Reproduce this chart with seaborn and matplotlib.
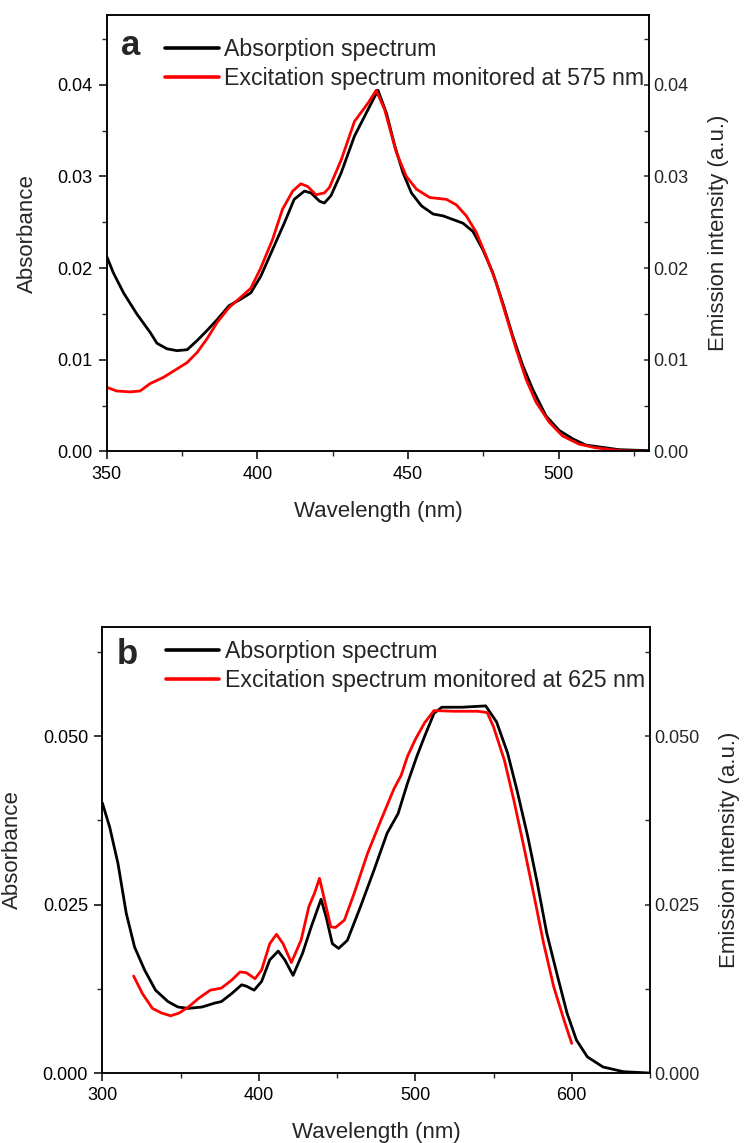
import numpy as np
import pandas as pd
import matplotlib
matplotlib.use("Agg")
import matplotlib.pyplot as plt
from matplotlib.ticker import MultipleLocator, FormatStrFormatter
import seaborn as sns

# ---------------- data: panel a ----------------
a_abs_wl = [350, 352.2, 355.6, 360, 364.4, 366.7, 370, 373.3, 376.7, 380, 383.3, 386.7,
            390.6, 394.4, 397.8, 401.1, 405, 408.9, 412.2, 415.6, 417.8, 420.6, 422.2,
            424.4, 427.8, 432.2, 436.7, 440, 442.8, 445.6, 448.3, 451.1, 454.4, 458.3,
            461.6, 464.9, 468.2, 471.5, 474.8, 478.1, 481.4, 484.7, 488, 491.3, 495.7,
            500.1, 504.5, 508.9, 515.5, 519.9, 528.7, 530]
a_abs_val = [0.0213, 0.0195, 0.0173, 0.0150, 0.0130, 0.0118, 0.0112, 0.0110, 0.0111, 0.0121,
             0.0132, 0.0144, 0.0159, 0.0166, 0.0173, 0.0191, 0.0220, 0.0249, 0.0275, 0.0284,
             0.0282, 0.0273, 0.0271, 0.0279, 0.0304, 0.0344, 0.0373, 0.0394, 0.0369, 0.0333,
             0.0304, 0.0282, 0.0268, 0.0259, 0.0257, 0.0253, 0.0249, 0.0240, 0.0220, 0.0195,
             0.0162, 0.0126, 0.0094, 0.0068, 0.0039, 0.0023, 0.0014, 0.0007, 0.0004, 0.0002,
             0.0001, 0.0001]

a_exc_wl = [350, 353.3, 357.8, 361.1, 364.4, 368.9, 373.3, 376.7, 380, 383.3, 386.7, 390.6,
            394.4, 397.8, 401.1, 405, 408.3, 411.7, 414.4, 416.7, 419.4, 422.2, 423.9, 427.8,
            432.2, 436.7, 439.4, 442.2, 446.1, 449.4, 452.8, 457.2, 462.7, 466, 469.3,
            472.6, 475.9, 479.2, 482.5, 485.8, 489.1, 492.4, 496.8, 501.2, 506.7, 512.2,
            520, 530]
a_exc_val = [0.0070, 0.0066, 0.0065, 0.0066, 0.0074, 0.0081, 0.0090, 0.0097, 0.0108, 0.0123,
             0.0141, 0.0157, 0.0168, 0.0178, 0.0200, 0.0231, 0.0264, 0.0284, 0.0292, 0.0289,
             0.0280, 0.0282, 0.0288, 0.0318, 0.0360, 0.0380, 0.0394, 0.0373, 0.0326, 0.0300,
             0.0286, 0.0277, 0.0275, 0.0269, 0.0257, 0.0239, 0.0213, 0.0184, 0.0148, 0.0112,
             0.0079, 0.0054, 0.0032, 0.0017, 0.0008, 0.0004, 0.0001, 0.0000]

# ---------------- data: panel b ----------------
b_abs_wl = [300, 304.7, 310, 315.3, 320.6, 327, 334, 342, 348.3, 355, 363.7, 372, 376,
            382.7, 389, 392, 397, 401.8, 407, 412.4, 416.6, 421.9, 428, 433.5, 439.8, 443,
            447, 451, 456.6, 465, 473.6, 482, 489, 495, 501, 506, 512, 517, 530, 545, 552,
            559, 565, 572, 578, 584, 591, 597, 603, 610, 620, 633, 650]
b_abs_val = [0.0401, 0.0365, 0.0311, 0.0237, 0.0187, 0.0153, 0.0123, 0.0106, 0.0098, 0.0096,
             0.0098, 0.0104, 0.0106, 0.0118, 0.0131, 0.0129, 0.0123, 0.0136, 0.0168, 0.0181,
             0.0168, 0.0145, 0.0178, 0.0217, 0.0258, 0.0232, 0.0192, 0.0185, 0.0197, 0.0247,
             0.0301, 0.0356, 0.0385, 0.0430, 0.0470, 0.0500, 0.0534, 0.0543, 0.0543, 0.0545,
             0.0521, 0.0475, 0.0420, 0.0350, 0.0282, 0.0208, 0.0143, 0.0089, 0.0049, 0.0024,
             0.0009, 0.0002, 0.0000]

b_exc_wl = [320, 325.6, 332, 338, 343.6, 349, 355, 361.6, 369, 376, 382.7, 388, 392, 397.6,
            401.8, 407, 411.3, 415.5, 420.8, 427, 432, 435.6, 438.8, 442, 446, 449, 454.7,
            461, 469.5, 478, 486.4, 491, 495, 500, 506, 512, 525, 540, 546, 550, 557, 563,
            569.4, 576, 582, 588.5, 595, 600]
b_exc_val = [0.0144, 0.0118, 0.0096, 0.0089, 0.0085, 0.0089, 0.0098, 0.0111, 0.0123, 0.0126,
             0.0138, 0.0150, 0.0149, 0.0140, 0.0153, 0.0192, 0.0206, 0.0192, 0.0164, 0.0197,
             0.0247, 0.0267, 0.0289, 0.0257, 0.0217, 0.0216, 0.0227, 0.0267, 0.0326, 0.0375,
             0.0422, 0.0442, 0.0470, 0.0495, 0.0520, 0.0538, 0.0537, 0.0537, 0.0535, 0.0514,
             0.0464, 0.0405, 0.0336, 0.0262, 0.0193, 0.0128, 0.0079, 0.0044]

labels_abs = "Absorption spectrum"
label_exc_a = "Excitation spectrum monitored at 575 nm"
label_exc_b = "Excitation spectrum monitored at 625 nm"

sns.set_theme(style="ticks")
plt.rcParams['font.family'] = ['Liberation Sans', 'DejaVu Sans']

fig = plt.figure(figsize=(7.47, 11.43), dpi=100)

TICK_FS = 13
LABEL_FS = 16
LEG_FS = 16.7

def panel(rect, abs_wl, abs_val, exc_wl, exc_val, exc_label, letter, letter_y, leg_anchor,
          xlim, ylim, xmaj, xmin, ymaj, ymin, fmt):
    ax = fig.add_axes(rect)
    df_abs = pd.DataFrame({"wl": abs_wl, "val": abs_val})
    df_exc = pd.DataFrame({"wl": exc_wl, "val": exc_val})
    sns.lineplot(data=df_abs, x="wl", y="val", ax=ax, color="black", lw=2.0,
                 label=labels_abs, estimator=None, sort=False)
    sns.lineplot(data=df_exc, x="wl", y="val", ax=ax, color="#ff0000", lw=2.0,
                 label=exc_label, estimator=None, sort=False)
    ax.set_xlim(*xlim)
    ax.set_ylim(*ylim)
    ax.xaxis.set_major_locator(MultipleLocator(xmaj))
    ax.xaxis.set_minor_locator(MultipleLocator(xmin))
    ax.yaxis.set_major_locator(MultipleLocator(ymaj))
    ax.yaxis.set_minor_locator(MultipleLocator(ymin))
    ax.yaxis.set_major_formatter(FormatStrFormatter(fmt))
    ax.set_xlabel("Wavelength (nm)", fontsize=LABEL_FS, labelpad=13)
    ax.set_ylabel("Absorbance", fontsize=LABEL_FS, labelpad=14)
    ax.tick_params(axis='both', which='major', direction='out', length=5.8, width=1.1,
                   labelsize=TICK_FS, colors='black', pad=4.5)
    ax.tick_params(axis='both', which='minor', direction='out', length=3.3, width=1.0)
    for s in ax.spines.values():
        s.set_visible(True)
        s.set_linewidth(1.1)
        s.set_color('black')
    ax2 = ax.twinx()
    ax2.set_ylim(*ylim)
    ax2.yaxis.set_major_locator(MultipleLocator(ymaj))
    ax2.yaxis.set_minor_locator(MultipleLocator(ymin))
    ax2.yaxis.set_major_formatter(FormatStrFormatter(fmt))
    ax2.tick_params(axis='y', which='major', direction='in', length=3.3, width=1.1,
                    labelsize=TICK_FS, pad=3)
    ax2.tick_params(axis='y', which='minor', direction='in', length=3.3, width=1.0)
    ax2.set_ylabel("Emission intensity (a.u.)", fontsize=LABEL_FS, labelpad=14)
    for s in ax2.spines.values():
        s.set_linewidth(1.1)
        s.set_color('black')
    leg = ax.legend(loc='upper left', bbox_to_anchor=leg_anchor, frameon=False,
                    fontsize=LEG_FS, handlelength=2.3, handletextpad=0.25,
                    labelspacing=0.28, borderaxespad=0.0, borderpad=0.0)
    for h in leg.get_lines():
        h.set_linewidth(2.6)
    ax.text(0.026, letter_y, letter, transform=ax.transAxes, fontsize=25,
            fontweight='bold', va='center', ha='left')
    return ax

panel([0.1428, 0.6050, 0.7264, 0.3818], a_abs_wl, a_abs_val, a_exc_wl, a_exc_val,
      label_exc_a, "a", 0.93, (0.108, 0.948),
      (350, 530), (0, 0.0476), 50, 25, 0.01, 0.005, '%.2f')
panel([0.1370, 0.0612, 0.7331, 0.3902], b_abs_wl, b_abs_val, b_exc_wl, b_exc_val,
      label_exc_b, "b", 0.938, (0.116, 0.971),
      (300, 650), (0, 0.0662), 100, 50, 0.025, 0.0125, '%.3f')

fig.savefig("out.png", dpi=100)
